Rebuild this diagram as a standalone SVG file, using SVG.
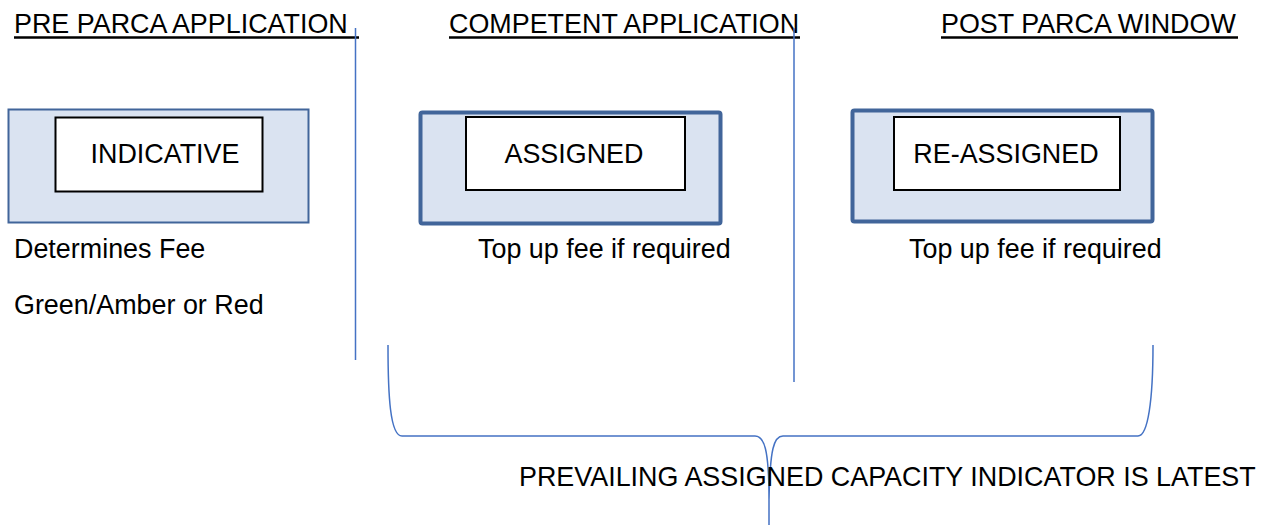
<svg xmlns="http://www.w3.org/2000/svg" width="1266" height="525" viewBox="0 0 1266 525">
<style>
text{font-family:"Liberation Sans",Arial,sans-serif;font-size:26.9px;fill:#000}
.outer{fill:#dae3f1;stroke:#41659a}
.inner{fill:#fff;stroke:#000;stroke-width:2}
.conn{fill:none;stroke:#4472c4;stroke-width:1.5}
.ul{stroke:#000;stroke-width:2.5}
</style>
<rect width="1266" height="525" fill="#fff"/>
<g id="headings">
<text x="14" y="33">PRE PARCA APPLICATION</text>
<line class="ul" x1="14" y1="37.5" x2="359" y2="37.5"/>
<text x="449" y="33">COMPETENT APPLICATION</text>
<line class="ul" x1="449" y1="37.5" x2="800" y2="37.5"/>
<text x="941" y="33">POST PARCA WINDOW</text>
<line class="ul" x1="941" y1="37.5" x2="1238" y2="37.5"/>
</g>
<g id="connectors">
<line class="conn" x1="355.5" y1="28" x2="355.5" y2="360"/>
<line class="conn" x1="794" y1="28" x2="794" y2="382"/>
<path class="conn" d="M388 345 C388 395 390 436 402 436 L755 436 C764 436 769 448 769 500 L769 525 M769 500 C770 448 774 436 783 436 L1138 436 C1148 436 1153 400 1153 345"/>
</g>
<g id="indicative">
<rect class="outer" x="8.5" y="109.5" width="300" height="113" stroke-width="2"/>
<rect class="inner" x="55.5" y="117.5" width="207" height="74"/>
<text x="165" y="163" text-anchor="middle">INDICATIVE</text>
</g>
<g id="assigned">
<rect class="outer" x="420.5" y="112.5" width="300" height="111" rx="2" stroke-width="4"/>
<rect class="inner" x="466" y="117" width="219" height="73"/>
<text x="574" y="163" text-anchor="middle">ASSIGNED</text>
</g>
<g id="reassigned">
<rect class="outer" x="852.5" y="110.5" width="300" height="111" rx="2" stroke-width="4"/>
<rect class="inner" x="894" y="117" width="226" height="73"/>
<text x="1006" y="163" text-anchor="middle">RE-ASSIGNED</text>
</g>
<g id="notes">
<text x="14" y="258">Determines Fee</text>
<text x="14" y="314">Green/Amber or Red</text>
<text x="478" y="258">Top up fee if required</text>
<text x="909" y="258">Top up fee if required</text>
<text x="519" y="486">PREVAILING ASSIGNED CAPACITY INDICATOR IS LATEST</text>
</g>
</svg>
